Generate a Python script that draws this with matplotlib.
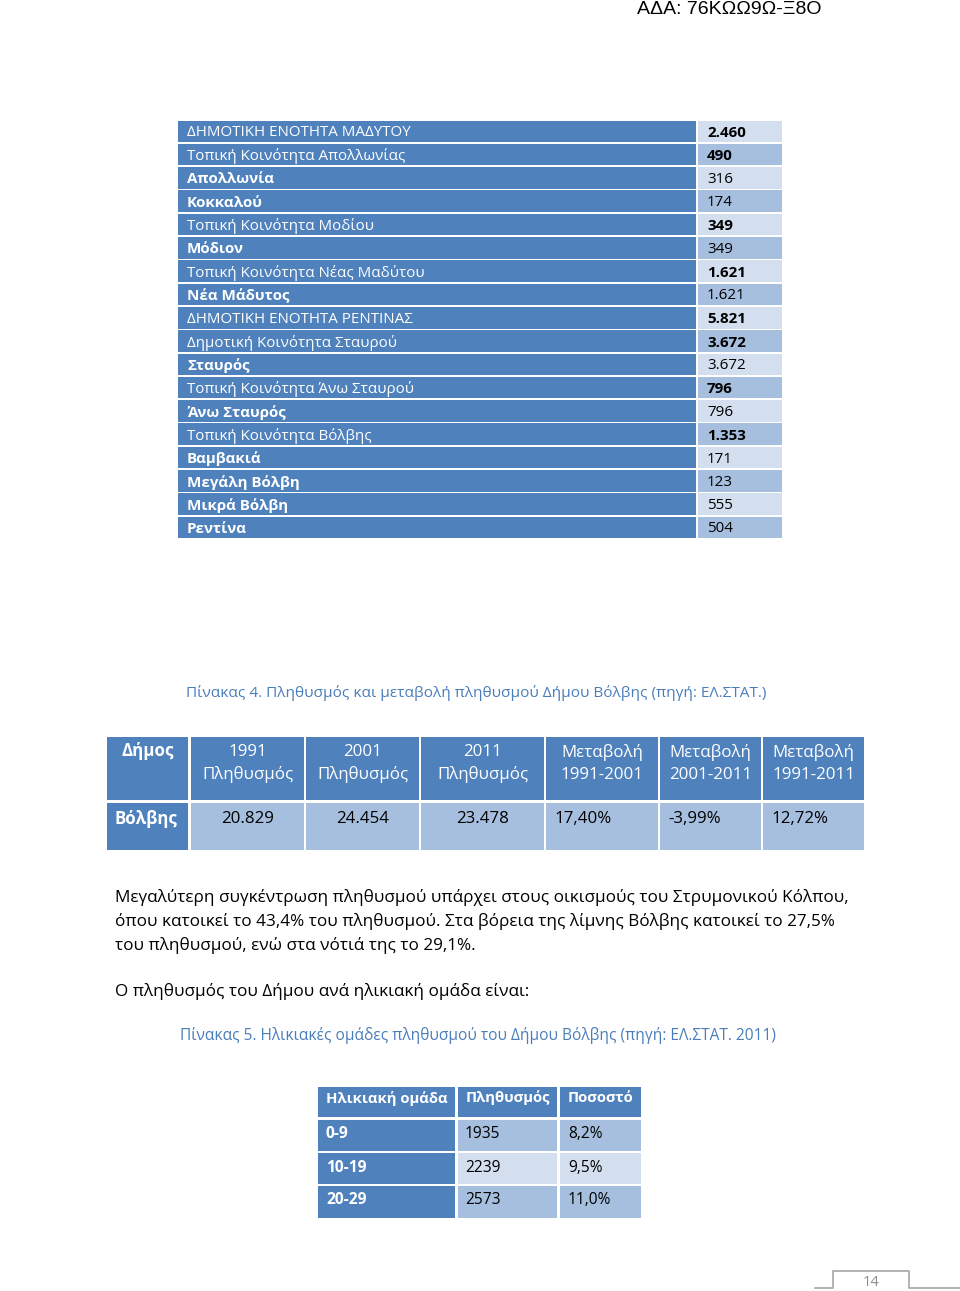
import matplotlib.pyplot as plt
from matplotlib.patches import Rectangle

plt.rcParams['font.family'] = ['Open Sans', 'DejaVu Sans']

DARK = '#4f81bd'
MID = '#a7bfde'
LIGHT = '#d3dfee'
CAPTION = '#4a7ebb'

# Πίνακας: οικισμοί και πληθυσμός
places = ["ΔΗΜΟΤΙΚΗ ΕΝΟΤΗΤΑ ΜΑΔΥΤΟΥ", "Τοπική Κοινότητα Απολλωνίας", "Απολλωνία", "Κοκκαλού",
          "Τοπική Κοινότητα Μοδίου", "Μόδιον", "Τοπική Κοινότητα Νέας Μαδύτου", "Νέα Μάδυτος",
          "ΔΗΜΟΤΙΚΗ ΕΝΟΤΗΤΑ ΡΕΝΤΙΝΑΣ", "Δημοτική Κοινότητα Σταυρού", "Σταυρός",
          "Τοπική Κοινότητα Άνω Σταυρού", "Άνω Σταυρός", "Τοπική Κοινότητα Βόλβης",
          "Βαμβακιά", "Μεγάλη Βόλβη", "Μικρά Βόλβη", "Ρεντίνα"]
population = ["2.460", "490", "316", "174", "349", "349", "1.621", "1.621", "5.821", "3.672",
              "3.672", "796", "796", "1.353", "171", "123", "555", "504"]
is_unit = [True, True, False, False, True, False, True, False, True, True, False,
           True, False, True, False, False, False, False]

# Πίνακας 4
t4_header = ["Δήμος", "1991\nΠληθυσμός", "2001\nΠληθυσμός", "2011\nΠληθυσμός",
             "Μεταβολή\n1991-2001", "Μεταβολή\n2001-2011", "Μεταβολή\n1991-2011"]
t4_row = ["Βόλβης", "20.829", "24.454", "23.478", "17,40%", "-3,99%", "12,72%"]

# Πίνακας 5
t5_header = ["Ηλικιακή ομάδα", "Πληθυσμός", "Ποσοστό"]
age_groups = ["0-9", "10-19", "20-29"]
age_pop = ["1935", "2239", "2573"]
age_pct = ["8,2%", "9,5%", "11,0%"]

paragraph = ["Μεγαλύτερη συγκέντρωση πληθυσμού υπάρχει στους οικισμούς του Στρυμονικού Κόλπου,",
             "όπου κατοικεί το 43,4% του πληθυσμού. Στα βόρεια της λίμνης Βόλβης κατοικεί το 27,5%",
             "του πληθυσμού, ενώ στα νότιά της το 29,1%."]

fig = plt.figure(figsize=(9.6, 12.91), dpi=100)
ax = fig.add_axes([0, 0, 1, 1])
ax.set_xlim(0, 960)
ax.set_ylim(1291, 0)
ax.axis('off')


def cell(x0, x1, y0, y1, color):
    ax.add_patch(Rectangle((x0, y0), x1 - x0, y1 - y0, facecolor=color, edgecolor='none'))


ax.text(637, 9.5, "ΑΔΑ: 76ΚΩΩ9Ω-Ξ8Ο", family='Liberation Sans', fontsize=14,
        ha='left', va='center', color='black')

# πίνακας οικισμών
top, step = 120.5, 23.3
for i, (name, val, unit) in enumerate(zip(places, population, is_unit)):
    y0 = top + i * step
    y1 = y0 + step - 1.6
    cell(178, 696, y0, y1, DARK)
    cell(698, 782, y0, y1, LIGHT if i % 2 == 0 else MID)
    yc = (y0 + y1) / 2 + 1.5
    ax.text(187, yc, name, color='white', fontsize=10.9, ha='left', va='center',
            fontweight='normal' if unit else 'bold')
    ax.text(707, yc, val, color='black', fontsize=10.9, ha='left', va='center',
            fontweight='bold' if unit else 'normal')

ax.text(186, 693, "Πίνακας 4. Πληθυσμός και μεταβολή πληθυσμού Δήμου Βόλβης (πηγή: ΕΛ.ΣΤΑΤ.)",
        color=CAPTION, fontsize=11.1, ha='left', va='center')

# Πίνακας 4
cols4 = [(107, 188), (191, 304), (306, 419), (421, 544), (546, 658), (660, 761), (763, 864)]
for j, ((x0, x1), h, v) in enumerate(zip(cols4, t4_header, t4_row)):
    cell(x0, x1, 737, 800, DARK)
    cell(x0, x1, 803, 850, DARK if j == 0 else MID)
    if j == 0:
        ax.text((x0 + x1) / 2, 751, h, color='white', fontsize=12.2, fontweight='bold',
                ha='center', va='center')
        ax.text(115, 819, v, color='white', fontsize=12.2, fontweight='bold',
                ha='left', va='center')
    else:
        ax.text((x0 + x1) / 2, 763.5, h, color='white', fontsize=12.2, ha='center',
                va='center', linespacing=1.45)
        if j <= 3:
            ax.text((x0 + x1) / 2, 819, v, color='black', fontsize=12.2, ha='center', va='center')
        else:
            ax.text(x0 + 8, 819, v, color='black', fontsize=12.2, ha='left', va='center')

for k, line in enumerate(paragraph):
    ax.text(115, 898 + k * 24, line, color='black', fontsize=12.33, ha='left', va='center')
ax.text(115, 992, "Ο πληθυσμός του Δήμου ανά ηλικιακή ομάδα είναι:", color='black',
        fontsize=12.33, ha='left', va='center')

ax.text(180, 1036, "Πίνακας 5. Ηλικιακές ομάδες πληθυσμού του Δήμου Βόλβης (πηγή: ΕΛ.ΣΤΑΤ. 2011)",
        color=CAPTION, fontsize=11.2, ha='left', va='center')

# Πίνακας 5
cols5 = [(318, 455), (458, 557), (560, 641)]
for (x0, x1), h in zip(cols5, t5_header):
    cell(x0, x1, 1087, 1117, DARK)
    ax.text(x0 + 8, 1098, h, color='white', fontsize=10.7, fontweight='bold',
            ha='left', va='center')
rows5 = [(1120, 1151), (1153, 1184), (1186, 1218)]
for i, ((y0, y1), g, p, q) in enumerate(zip(rows5, age_groups, age_pop, age_pct)):
    shade = MID if i % 2 == 0 else LIGHT
    cell(*cols5[0], y0, y1, DARK)
    cell(*cols5[1], y0, y1, shade)
    cell(*cols5[2], y0, y1, shade)
    yc = y0 + 14.5
    ax.text(cols5[0][0] + 8, yc, g, color='white', fontsize=11.2, fontweight='bold',
            ha='left', va='center')
    ax.text(cols5[1][0] + 7, yc, p, color='black', fontsize=11.2, ha='left', va='center')
    ax.text(cols5[2][0] + 8, yc, q, color='black', fontsize=11.2, ha='left', va='center')

# αρίθμηση σελίδας
ax.plot([815, 833, 833, 909, 909, 960], [1288, 1288, 1271, 1271, 1288, 1288],
        color='#a6a6a6', lw=1.2)
ax.text(871, 1282, "14", color='#8c8c8c', fontsize=10.5, ha='center', va='center')

fig.savefig('out.png', dpi=100)
